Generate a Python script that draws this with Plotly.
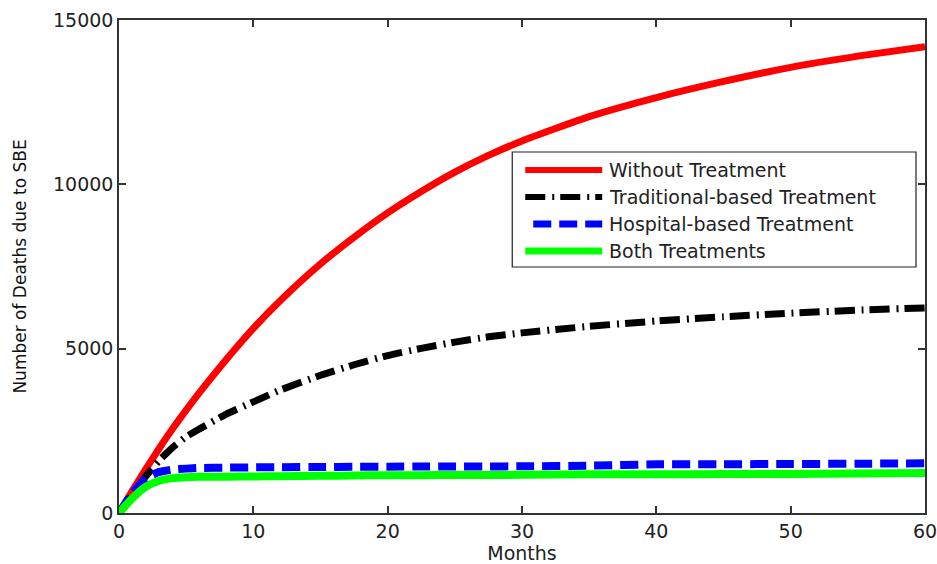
import plotly.graph_objects as go

# ---- data ----
months = [0, 1, 2, 3, 4, 5, 6, 8, 10, 12, 15, 17.5, 20, 22.5, 25, 27.5, 30, 35, 40, 45, 50, 55, 60]
without_treatment = [0, 680, 1340, 1970, 2570, 3130, 3670, 4680, 5620, 6460, 7580, 8390,
                     9130, 9780, 10370, 10880, 11320, 12060, 12640, 13130, 13560, 13900, 14190]
traditional_based = [0, 560, 1120, 1600, 2000, 2320, 2560, 3010, 3380, 3740, 4190, 4510,
                     4790, 5010, 5200, 5360, 5480, 5680, 5840, 5970, 6080, 6170, 6240]
hospital_based = [0, 600, 1050, 1250, 1320, 1350, 1370, 1380, 1390, 1395, 1400, 1405,
                  1410, 1412, 1415, 1418, 1420, 1440, 1480, 1485, 1490, 1500, 1510]
both_treatments = [0, 450, 800, 980, 1060, 1090, 1100, 1105, 1110, 1120, 1130, 1140,
                   1150, 1152, 1155, 1158, 1160, 1180, 1180, 1185, 1190, 1200, 1220]

series_names = ["Without Treatment", "Traditional-based Treatment",
                "Hospital-based Treatment", "Both Treatments"]
series_values = [without_treatment, traditional_based, hospital_based, both_treatments]
series_colors = ["#ff0000", "#000000", "#0000ff", "#00ff00"]
series_dash = ["solid", "20px,7px,2px,6px", "18px,8px", "solid"]
series_width = [7, 7, 8, 8]

x_ticks = [0, 10, 20, 30, 40, 50, 60]
y_ticks = [0, 5000, 10000, 15000]

FONT = "DejaVu Sans"
TXT = "#222222"

fig = go.Figure()
for name, vals, col, dash, w in zip(series_names, series_values, series_colors,
                                      series_dash, series_width):
    fig.add_trace(go.Scatter(x=months, y=vals, mode="lines", name=name,
                             line=dict(color=col, width=w, dash=dash,
                                       shape="spline", smoothing=0.5),
                             showlegend=False))

# ---- manual legend (MATLAB-style box) ----
W, H = 937, 564
ml, mr, mt, mb = 118.5, 12, 20, 51
pw, ph = W - ml - mr, H - mt - mb

def px(xp):
    return (xp - ml) / pw

def py(yp):
    return (H - mb - yp) / ph

shapes = [dict(type="rect", xref="paper", yref="paper",
               x0=px(512), x1=px(916), y0=py(267), y1=py(152),
               line=dict(color="#222222", width=1.2), fillcolor="white", layer="above")]
annotations = []
row_y = [170, 197, 224, 251]
for i, name in enumerate(series_names):
    x_start = 533 if i == 2 else 525
    shapes.append(dict(type="line", xref="paper", yref="paper",
                       x0=px(x_start), x1=px(602), y0=py(row_y[i]), y1=py(row_y[i]),
                       line=dict(color=series_colors[i], width=series_width[i] - 1,
                                 dash=series_dash[i]), layer="above"))
    annotations.append(dict(xref="paper", yref="paper", x=px(607), y=py(row_y[i]),
                            text=name, showarrow=False, xanchor="left", yanchor="middle",
                            font=dict(family=FONT, size=19, color=TXT)))

axis_common = dict(showgrid=False, zeroline=False, showline=True, mirror="ticks",
                   linecolor="#333333", linewidth=1.5, ticks="inside", ticklen=7,
                   tickwidth=1.5, tickcolor="#333333", automargin=False,
                   ticklabeloverflow="allow",
                   tickfont=dict(family=FONT, size=19, color=TXT))

fig.update_layout(
    width=W, height=H,
    margin=dict(l=ml, r=mr, t=mt, b=mb, pad=0, autoexpand=False),
    plot_bgcolor="white", paper_bgcolor="white",
    xaxis=dict(range=[0, 60], tickvals=x_ticks, ticktext=[str(v) for v in x_ticks],
               title=dict(text="Months", standoff=4,
                          font=dict(family=FONT, size=19, color=TXT)),
               **axis_common),
    yaxis=dict(range=[0, 15000], tickvals=y_ticks, ticktext=[str(v) for v in y_ticks],
               title=dict(text="Number of Deaths due to SBE", standoff=22,
                          font=dict(family=FONT, size=17, color="#111111")),
               **axis_common),
    shapes=shapes,
    annotations=annotations,
)

fig.write_html("out.html", config={"displayModeBar": False},
               post_script="document.body.style.margin='0';document.body.style.overflow='hidden';")
